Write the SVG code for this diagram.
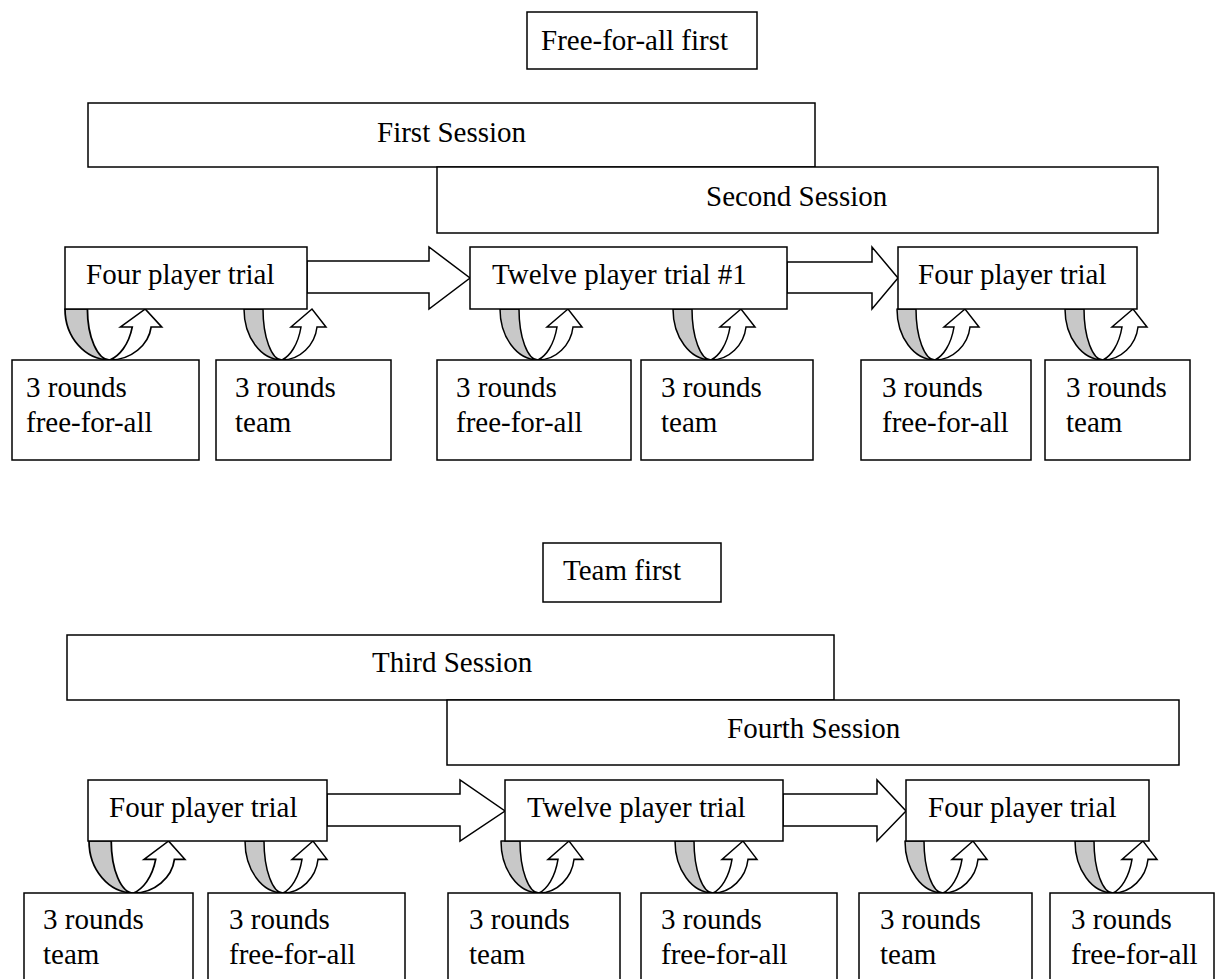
<svg xmlns="http://www.w3.org/2000/svg" xmlns:xlink="http://www.w3.org/1999/xlink" width="1216" height="979" viewBox="0 0 1216 979">
<style>
.box{fill:#fff;stroke:#000;stroke-width:1.5}
.t{font-family:"Liberation Serif","Times New Roman",serif;font-size:29px;fill:#000}
.back{fill:#c8c8c8;stroke:#000;stroke-width:1.5;stroke-linejoin:round}
.front{fill:#fff;stroke:#000;stroke-width:1.5;stroke-linejoin:miter}
.blk{fill:#fff;stroke:#000;stroke-width:1.5;stroke-linejoin:miter}
</style>
<defs>
<g id="uturn">
<path class="back" d="M0,0 A38,51 0 0 0 38,51 A19,51 0 0 1 19,0 Z"/>
<path class="front" d="M38,51 C46,47 54,36 57,18 L47,18 L68,0 L82,18 L73,18 C71,36 56,51 38,51 Z"/>
</g>
</defs>
<rect width="1216" height="979" fill="#fff"/>

<g id="hdr1"><rect class="box" x="527" y="12" width="230" height="57"/><text class="t" x="541" y="50">Free-for-all first</text></g>
<g id="s1"><rect class="box" x="88" y="103" width="727" height="64"/><text class="t" x="377" y="142">First Session</text></g>
<g id="s2"><rect class="box" x="437" y="167" width="721" height="66"/><text class="t" x="706" y="206">Second Session</text></g>

<g id="connectors">
<path class="blk" d="M307,261 L429,261 L429,247 L470,278 L429,309 L429,293 L307,293 Z"/>
<path class="blk" d="M787,262 L872,262 L872,247 L898,278 L872,309 L872,293 L787,293 Z"/>
<path class="blk" d="M327,794 L460,794 L460,780 L505,811 L460,841 L460,826 L327,826 Z"/>
<path class="blk" d="M783,794 L877,794 L877,780 L906,811 L877,841 L877,826 L783,826 Z"/>
<use xlink:href="#uturn" transform="translate(65,309) scale(1.18,1)"/>
<use xlink:href="#uturn" transform="translate(244,309)"/>
<use xlink:href="#uturn" transform="translate(500,309)"/>
<use xlink:href="#uturn" transform="translate(673,309)"/>
<use xlink:href="#uturn" transform="translate(897,309)"/>
<use xlink:href="#uturn" transform="translate(1065,309)"/>
<use xlink:href="#uturn" transform="translate(89,841) scale(1.17,1.02)"/>
<use xlink:href="#uturn" transform="translate(245,841) scale(1,1.02)"/>
<use xlink:href="#uturn" transform="translate(501,841) scale(1,1.02)"/>
<use xlink:href="#uturn" transform="translate(675,841) scale(1,1.02)"/>
<use xlink:href="#uturn" transform="translate(905,841) scale(1,1.02)"/>
<use xlink:href="#uturn" transform="translate(1075,841) scale(1,1.02)"/>
</g>

<g id="t1"><rect class="box" x="65" y="247" width="242" height="62"/><text class="t" x="86" y="284">Four player trial</text></g>
<g id="t2"><rect class="box" x="470" y="247" width="317" height="62"/><text class="t" x="492" y="284">Twelve player trial #1</text></g>
<g id="t3"><rect class="box" x="898" y="247" width="239" height="62"/><text class="t" x="918" y="284">Four player trial</text></g>

<g id="r1"><rect class="box" x="12" y="360" width="187" height="100"/><text class="t" x="26" y="397">3 rounds</text><text class="t" x="26" y="432">free-for-all</text></g>
<g id="r2"><rect class="box" x="216" y="360" width="175" height="100"/><text class="t" x="235" y="397">3 rounds</text><text class="t" x="235" y="432">team</text></g>
<g id="r3"><rect class="box" x="437" y="360" width="194" height="100"/><text class="t" x="456" y="397">3 rounds</text><text class="t" x="456" y="432">free-for-all</text></g>
<g id="r4"><rect class="box" x="641" y="360" width="172" height="100"/><text class="t" x="661" y="397">3 rounds</text><text class="t" x="661" y="432">team</text></g>
<g id="r5"><rect class="box" x="861" y="360" width="170" height="100"/><text class="t" x="882" y="397">3 rounds</text><text class="t" x="882" y="432">free-for-all</text></g>
<g id="r6"><rect class="box" x="1045" y="360" width="145" height="100"/><text class="t" x="1066" y="397">3 rounds</text><text class="t" x="1066" y="432">team</text></g>

<g id="hdr2"><rect class="box" x="543" y="543" width="178" height="59"/><text class="t" x="563" y="580">Team first</text></g>
<g id="s3"><rect class="box" x="67" y="635" width="767" height="65"/><text class="t" x="372" y="672">Third Session</text></g>
<g id="s4"><rect class="box" x="447" y="700" width="732" height="65"/><text class="t" x="727" y="738">Fourth Session</text></g>

<g id="u1"><rect class="box" x="88" y="780" width="239" height="61"/><text class="t" x="109" y="817">Four player trial</text></g>
<g id="u2"><rect class="box" x="505" y="780" width="278" height="61"/><text class="t" x="527" y="817">Twelve player trial</text></g>
<g id="u3"><rect class="box" x="906" y="780" width="243" height="61"/><text class="t" x="928" y="817">Four player trial</text></g>

<g id="v1"><rect class="box" x="24" y="893" width="169" height="100"/><text class="t" x="43" y="929">3 rounds</text><text class="t" x="43" y="964">team</text></g>
<g id="v2"><rect class="box" x="208" y="893" width="197" height="100"/><text class="t" x="229" y="929">3 rounds</text><text class="t" x="229" y="964">free-for-all</text></g>
<g id="v3"><rect class="box" x="448" y="893" width="172" height="100"/><text class="t" x="469" y="929">3 rounds</text><text class="t" x="469" y="964">team</text></g>
<g id="v4"><rect class="box" x="641" y="893" width="196" height="100"/><text class="t" x="661" y="929">3 rounds</text><text class="t" x="661" y="964">free-for-all</text></g>
<g id="v5"><rect class="box" x="859" y="893" width="173" height="100"/><text class="t" x="880" y="929">3 rounds</text><text class="t" x="880" y="964">team</text></g>
<g id="v6"><rect class="box" x="1050" y="893" width="164" height="100"/><text class="t" x="1071" y="929">3 rounds</text><text class="t" x="1071" y="964">free-for-all</text></g>
</svg>
